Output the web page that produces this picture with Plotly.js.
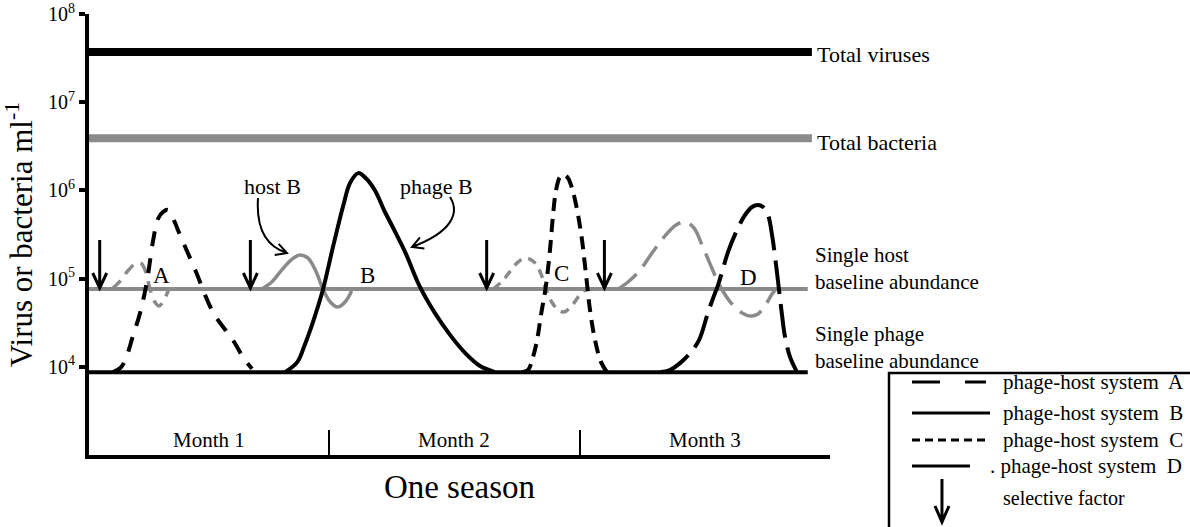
<!DOCTYPE html>
<html>
<head>
<meta charset="utf-8">
<script src="https://cdn.plot.ly/plotly-3.0.1.min.js"></script>
<style>html,body{margin:0;padding:0;background:#fff;}#chart{width:1190px;height:527px;}</style>
</head>
<body>
<div id="chart"></div>
<script>
// ---------- data (x = day of the season, y = abundance per ml) ----------
const monthBounds = [29.15, 59.6, 90];
const monthLabels = ['Month 1', 'Month 2', 'Month 3'];
const yTickVals = [1e4, 1e5, 1e6, 1e7, 1e8];
const yTickText = ['10<sup>4</sup>', '10<sup>5</sup>', '10<sup>6</sup>', '10<sup>7</sup>', '10<sup>8</sup>'];

const totalVirusesX = [0, 87.8];
const totalVirusesY = [3.7e7, 3.7e7];
const totalBacteriaX = [0, 87.8];
const totalBacteriaY = [3.9e6, 3.9e6];
const hostBaselineX = [0, 87.3];
const hostBaselineY = [7.62e4, 7.62e4];
const phageBaselineX = [0, 87.3];
const phageBaselineY = [8.7e3, 8.7e3];

const phageAX = [2.9, 3.8, 4.4, 5.3, 6.2, 7.0, 7.8, 8.4, 9.0, 9.6, 10.4, 10.8, 12.9, 15.1, 17.5, 18.7, 19.8];
const phageAY = [8.7e3, 9.7e3, 1.19e4, 2.18e4, 4.08e4, 8.9e4, 2.74e5, 4.8e5, 5.7e5, 6.0e5, 4.4e5, 3.56e5, 1.25e5, 4.1e4, 2.0e4, 1.29e4, 9.5e3];
const hostAX = [2.8, 3.8, 4.7, 5.6, 6.3, 6.9, 7.4, 8.0, 8.5, 9.1, 9.7];
const hostAY = [7.62e4, 9.4e4, 1.22e5, 1.47e5, 1.5e5, 1.19e5, 7.62e4, 5.43e4, 4.89e4, 5.72e4, 7.62e4];

const phageBX = [23.8, 25.3, 26.2, 27.2, 28.4, 29.6, 30.9, 31.7, 32.7, 33.6, 34.7, 35.95, 37.2, 38.4, 40.2, 42.0, 43.85, 45.7, 47.5, 49.3];
const phageBY = [8.7e3, 1.13e4, 1.77e4, 3.22e4, 7.42e4, 2.22e5, 6.83e5, 1.21e6, 1.57e6, 1.38e6, 1.01e6, 5.69e5, 3.37e5, 2.0e5, 8.04e4, 4.08e4, 2.3e4, 1.43e4, 1.02e4, 8.7e3];
const hostBX = [21.0, 22.2, 23.4, 24.7, 25.6, 26.6, 27.6, 28.4, 29.3, 30.2, 31.1, 31.9];
const hostBY = [7.62e4, 9.15e4, 1.25e5, 1.67e5, 1.85e5, 1.71e5, 1.19e5, 7.62e4, 5.43e4, 4.76e4, 5.43e4, 7.23e4];

const phageCX = [52.59, 53.32, 53.93, 54.42, 54.9, 55.51, 55.99, 56.36, 56.73, 57.21, 57.7, 58.18, 58.79, 59.4, 59.88, 60.37, 60.85, 61.46, 62.19, 62.92];
const phageCY = [8.7e3, 9.2e3, 1.29e4, 2.01e4, 3.87e4, 8.45e4, 2.11e5, 5.26e5, 1.01e6, 1.42e6, 1.5e6, 1.38e6, 9.59e5, 5.26e5, 2.74e5, 1.1e5, 4.41e4, 2.01e4, 1.13e4, 8.7e3];
const hostCX = [49.1, 50.2, 51.1, 52.1, 53.1, 54.05, 54.8, 55.5, 56.2, 57.0, 57.7, 58.7, 59.6, 60.4];
const hostCY = [7.62e4, 9.39e4, 1.19e5, 1.54e5, 1.71e5, 1.54e5, 1.19e5, 7.62e4, 5.43e4, 4.41e4, 4.18e4, 5.02e4, 6.51e4, 7.62e4];

const phageDX = [69.35, 70.57, 71.78, 73.0, 74.09, 75.06, 75.67, 76.4, 76.89, 77.61, 78.71, 79.68, 80.53, 81.26, 81.87, 82.47, 82.96, 83.45, 83.81, 84.17, 84.54, 85.15, 86.0];
const phageDY = [8.7e3, 9.2e3, 1.1e4, 1.43e4, 2.01e4, 3.77e4, 5.57e4, 8.45e4, 1.19e5, 2.0e5, 3.56e5, 5.26e5, 6.49e5, 6.83e5, 6.49e5, 5.26e5, 3.12e5, 1.43e5, 7.42e4, 3.87e4, 2.18e4, 1.29e4, 8.7e3];
const hostDX = [64.25, 65.47, 66.93, 68.38, 69.84, 71.3, 72.51, 73.48, 74.46, 75.43, 76.4, 77.13, 78.1, 79.32, 80.29, 81.26, 82.23, 82.96, 83.45];
const hostDY = [7.62e4, 9.15e4, 1.25e5, 1.95e5, 2.96e5, 4.06e5, 4.39e5, 3.75e5, 2.4e5, 1.47e5, 9.15e4, 6.87e4, 5.15e4, 4.08e4, 3.77e4, 3.97e4, 5.15e4, 6.68e4, 7.62e4];

const selectiveDays = [1.3, 19.6, 48.3, 62.6];

// ---------- styling / layout ----------
const FONT = 'Liberation Serif, Times New Roman, serif';
const GRAY = '#8a8a8a';
const ML = 89, MT = 14, PW = 741, PH = 441;
function PX(x) { return (x - ML) / PW; }
function PY(y) { return (MT + PH - y) / PH; }

function line(x, y, color, width, dash, spline) {
  return {x: x, y: y, type: 'scatter', mode: 'lines', hoverinfo: 'skip', showlegend: false,
    line: {color: color, width: width, dash: dash || 'solid', shape: spline ? 'spline' : 'linear', smoothing: 1}};
}

const traces = [
  line(totalVirusesX, totalVirusesY, '#000', 8),
  line(totalBacteriaX, totalBacteriaY, GRAY, 8),
  line(hostBaselineX, hostBaselineY, GRAY, 4),
  line(phageBaselineX, phageBaselineY, '#000', 4),
  line(hostAX, hostAY, GRAY, 3.5, '12px,8px', true),
  line(hostBX, hostBY, GRAY, 3.5, 'solid', true),
  line(hostCX, hostCY, GRAY, 3.5, '9px,7px', true),
  line(hostDX, hostDY, GRAY, 3.5, '24px,10px', true),
  line(phageAX, phageAY, '#000', 4, '15px,12px', true),
  line(phageBX, phageBY, '#000', 4, 'solid', true),
  line(phageCX, phageCY, '#000', 4, '13px,8px', true),
  line(phageDX, phageDY, '#000', 4, '34px,10px', true)
];

function txt(text, x, y, size, anchor) {
  return {text: text, x: x, y: y, xref: 'paper', yref: 'paper', showarrow: false, align: 'left',
    xanchor: anchor || 'left', yanchor: 'middle', font: {family: FONT, size: size, color: '#000'}};
}

const annotations = [
  txt('Total viruses', PX(815), PY(55), 22),
  txt('Total bacteria', PX(815), PY(142), 22),
  txt('Single host<br>baseline abundance', PX(813), PY(268), 21),
  txt('Single phage<br>baseline abundance', PX(813), PY(347), 21),
  txt('host B', PX(272), PY(186), 22, 'center'),
  txt('phage B', PX(436), PY(186), 22, 'center'),
  txt('A', PX(161), PY(275), 23, 'center'),
  txt('B', PX(367), PY(275), 23, 'center'),
  txt('C', PX(561), PY(273), 23, 'center'),
  txt('D', PX(748), PY(277), 23, 'center'),
  // legend texts
  txt('phage-host system  A', PX(1001), PY(382), 21),
  txt('phage-host system  B', PX(1001), PY(413), 21),
  txt('phage-host system  C', PX(1001), PY(440), 21),
  txt('. phage-host system  D', PX(988), PY(466), 21),
  txt('selective factor', PX(1001), PY(498), 20)
];

monthLabels.forEach(function (m, i) {
  const lo = i === 0 ? 0 : monthBounds[i - 1];
  annotations.push({text: m, x: (lo + monthBounds[i]) / 2, xref: 'x', y: PY(440), yref: 'paper',
    showarrow: false, xanchor: 'center', yanchor: 'middle', font: {family: FONT, size: 21, color: '#000'}});
});

function P(x, y) { return PX(x).toFixed(4) + ',' + PY(y).toFixed(4); }
function seg(x0, x1, y, dash) {
  return {type: 'line', xref: 'paper', yref: 'paper', x0: PX(x0), x1: PX(x1), y0: PY(y), y1: PY(y),
    line: {color: '#000', width: 3, dash: dash || 'solid'}};
}
const shapes = [
  // curved pointers with open heads
  {type: 'path', xref: 'paper', yref: 'paper',
    path: 'M ' + P(258, 198) + ' Q ' + P(255, 243) + ' ' + P(287, 253) + ' M ' + P(274.7, 255) + ' L ' + P(287, 253) + ' L ' + P(278.7, 243.8),
    line: {color: '#000', width: 2}},
  {type: 'path', xref: 'paper', yref: 'paper',
    path: 'M ' + P(450, 197) + ' C ' + P(460, 213) + ' ' + P(452, 232) + ' ' + P(412, 247) + ' M ' + P(424.4, 248.5) + ' L ' + P(412, 247) + ' L ' + P(420, 237.3),
    line: {color: '#000', width: 2}},
  // legend frame and samples
  {type: 'rect', xref: 'paper', yref: 'paper', x0: PX(889), x1: PX(1210), y0: PY(540), y1: PY(373),
    line: {color: '#000', width: 2.5}, fillcolor: 'rgba(0,0,0,0)'},
  seg(912, 940, 382), seg(965, 986, 382),
  seg(912, 990, 413),
  seg(912, 988, 440, '8px,5px'),
  seg(912, 970, 466),
  {type: 'path', xref: 'paper', yref: 'paper',
    path: 'M ' + P(942, 479) + ' L ' + P(942, 522) + ' M ' + P(935, 506) + ' L ' + P(942, 522) + ' L ' + P(949, 506),
    line: {color: '#000', width: 3}}
];

// selective-factor arrows, anchored at the day and the host baseline
selectiveDays.forEach(function (d) {
  shapes.push({type: 'path', xref: 'x', yref: 'paper', xsizemode: 'pixel', ysizemode: 'pixel',
    xanchor: d, yanchor: PY(288),
    path: 'M 0,0 L 0,48 M -7,15 L 0,0 L 7,15',
    line: {color: '#000', width: 3}});
});

const layout = {
  width: 1190, height: 527,
  margin: {l: ML, r: 1190 - ML - PW, t: MT, b: 527 - MT - PH},
  paper_bgcolor: '#fff', plot_bgcolor: '#fff',
  showlegend: false,
  font: {family: FONT, color: '#000'},
  xaxis: {range: [0, 90], showgrid: false, zeroline: false, showline: true, linecolor: '#000', linewidth: 4,
    tickmode: 'array', tickvals: monthBounds, ticks: 'inside', ticklen: 25, tickwidth: 2, tickcolor: '#000',
    showticklabels: false, fixedrange: true,
    title: {text: 'One season', font: {family: FONT, size: 33, color: '#000'}, standoff: 18}},
  yaxis: {type: 'log', range: [3, 8], showgrid: false, zeroline: false, showline: true, linecolor: '#000', linewidth: 4,
    tickmode: 'array', tickvals: yTickVals, ticktext: yTickText, ticks: 'outside', ticklen: 6, tickwidth: 4,
    tickcolor: '#000', tickfont: {family: FONT, size: 20, color: '#000'}, fixedrange: true,
    title: {text: 'Virus or bacteria ml<sup>-1</sup>', font: {family: FONT, size: 31, color: '#000'}, standoff: 10}},
  annotations: annotations,
  shapes: shapes
};

Plotly.newPlot('chart', traces, layout, {staticPlot: true, displayModeBar: false});
</script>
</body>
</html>
